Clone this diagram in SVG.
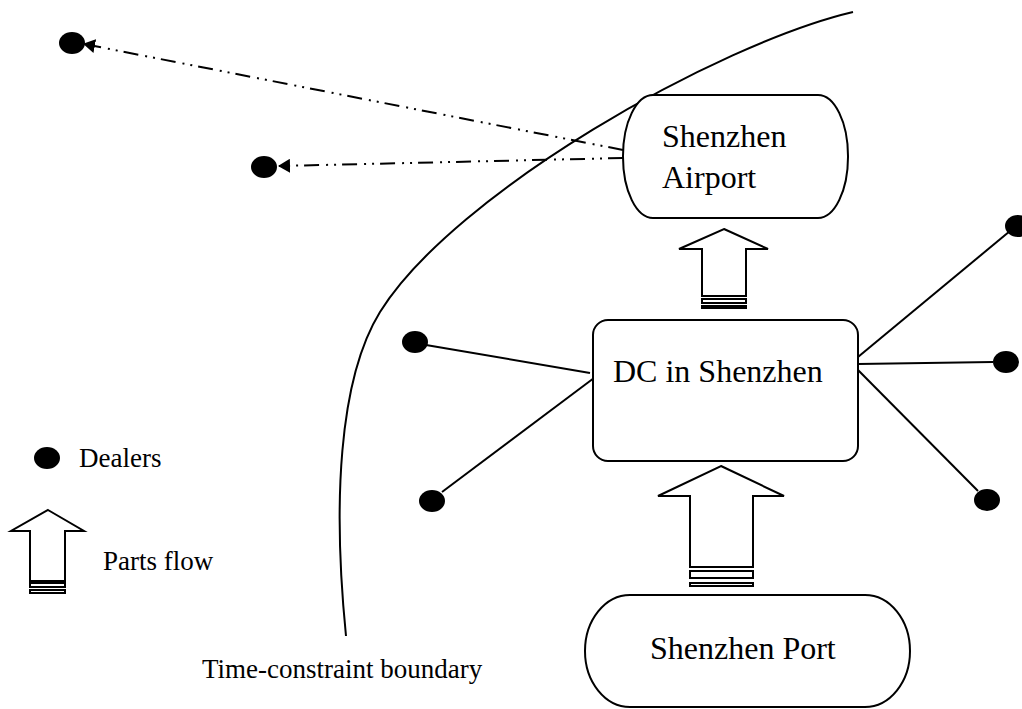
<svg xmlns="http://www.w3.org/2000/svg" width="1022" height="709" viewBox="0 0 1022 709">
  <style>
    .node { fill: #fff; stroke: #000; stroke-width: 2; }
    .label { font-family: "Liberation Serif", "Times New Roman", serif; font-size: 32px; fill: #000; }
    .legend { font-family: "Liberation Serif", "Times New Roman", serif; font-size: 27px; fill: #000; }
    .dealer { fill: #000; }
    .link { stroke: #000; stroke-width: 2; fill: none; }
    .air { stroke: #000; stroke-width: 2; fill: none; stroke-dasharray: 15 6 2 6 2 7; }
    .flow { fill: #fff; stroke: #000; stroke-width: 2; stroke-linejoin: miter; }
  </style>
  <defs>
    <marker id="tri" viewBox="0 0 12 14" refX="11" refY="7" markerWidth="12" markerHeight="14" markerUnits="userSpaceOnUse" orient="auto">
      <path d="M0,0 L12,7 L0,14 Z" fill="#000"/>
    </marker>
  </defs>

  <rect width="1022" height="709" fill="#fff"/>

  <!-- time-constraint boundary -->
  <path id="boundary" class="link" d="M853,12 C717,44 454,193 380,312 C338,380 333,506 346,636"/>

  <!-- connectors -->
  <g id="connectors">
    <line class="air" x1="623" y1="150" x2="84" y2="44" marker-end="url(#tri)"/>
    <line class="air" x1="623" y1="158" x2="279" y2="166" marker-end="url(#tri)"/>
    <line class="link" x1="426" y1="345" x2="590" y2="373"/>
    <line class="link" x1="442" y1="492" x2="594" y2="378"/>
    <line class="link" x1="1010" y1="231" x2="858" y2="357"/>
    <line class="link" x1="993" y1="362" x2="858" y2="364"/>
    <line class="link" x1="978" y1="491" x2="858" y2="370"/>
  </g>

  <!-- parts-flow arrows -->
  <g id="flow-dc-airport">
    <path class="flow" d="M724,229 L768,249 L746,249 L746,296 L702,296 L702,249 L679,249 Z"/>
    <rect class="flow" x="702" y="299" width="44" height="4"/>
    <rect class="flow" x="702" y="306" width="44" height="2"/>
  </g>
  <g id="flow-port-dc">
    <path class="flow" d="M721,466 L784,496 L753,496 L753,567 L690,567 L690,496 L658,496 Z"/>
    <rect class="flow" x="690" y="571" width="63" height="7"/>
    <rect class="flow" x="690" y="583" width="63" height="3"/>
  </g>

  <!-- nodes -->
  <g id="airport">
    <rect class="node" x="623" y="95" width="225" height="123" rx="30" ry="61"/>
    <text class="label" x="662" y="147">Shenzhen</text>
    <text class="label" x="662" y="188">Airport</text>
  </g>
  <g id="dc">
    <rect class="node" x="593" y="320" width="265" height="141" rx="15" ry="15"/>
    <text class="label" x="613" y="382">DC in Shenzhen</text>
  </g>
  <g id="port">
    <rect class="node" x="585" y="595" width="325" height="112" rx="45" ry="56"/>
    <text class="label" x="650" y="659">Shenzhen Port</text>
  </g>

  <!-- dealers -->
  <g id="dealers">
    <ellipse class="dealer" cx="72" cy="43" rx="13" ry="11"/>
    <ellipse class="dealer" cx="264" cy="167" rx="13" ry="11"/>
    <ellipse class="dealer" cx="415" cy="342" rx="13" ry="11"/>
    <ellipse class="dealer" cx="432" cy="501" rx="13" ry="11"/>
    <ellipse class="dealer" cx="1018" cy="226" rx="13" ry="11"/>
    <ellipse class="dealer" cx="1006" cy="362" rx="13" ry="11"/>
    <ellipse class="dealer" cx="987" cy="500" rx="13" ry="11"/>
  </g>

  <!-- legend -->
  <g id="legend">
    <ellipse class="dealer" cx="47" cy="458" rx="13" ry="11"/>
    <text class="legend" x="79" y="467">Dealers</text>
    <path class="flow" d="M48,510 L84,531 L65,531 L65,581 L30,581 L30,531 L11,531 Z"/>
    <rect class="flow" x="30" y="583" width="35" height="4"/>
    <rect class="flow" x="30" y="590" width="35" height="3"/>
    <text class="legend" x="103" y="570">Parts flow</text>
  </g>

  <text id="boundary-label" class="legend" x="202" y="678">Time-constraint boundary</text>
</svg>
